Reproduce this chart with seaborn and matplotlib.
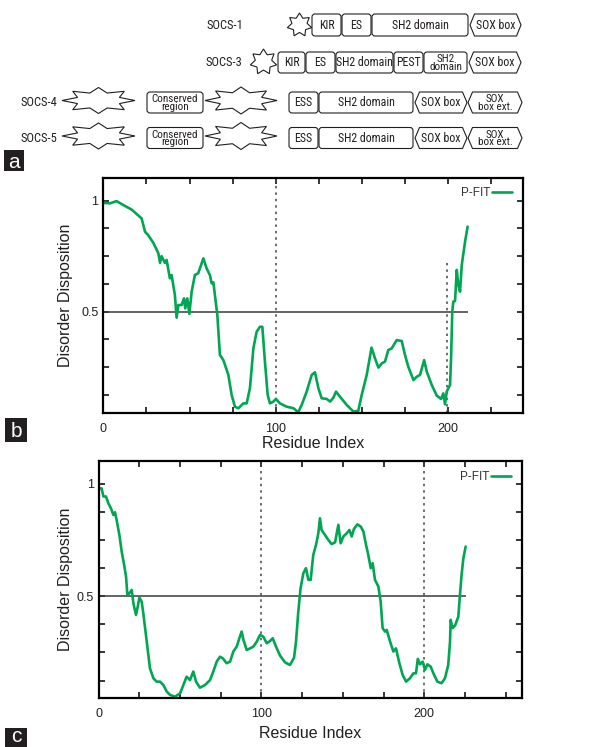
import numpy as np
import pandas as pd
import matplotlib
matplotlib.use("Agg")
import matplotlib.pyplot as plt
import seaborn as sns
from matplotlib.patches import FancyBboxPatch, Polygon, Rectangle
from matplotlib import font_manager
from matplotlib.font_manager import FontProperties

# ---------------- data ----------------
socs_names = ["SOCS-1", "SOCS-3", "SOCS-4", "SOCS-5"]
socs1_domains = ["KIR", "ES", "SH2 domain", "SOX box"]
socs3_domains = ["KIR", "ES", "SH2 domain", "PEST", "SH2\ndomain", "SOX box"]
socs45_domains = ["ESS", "SH2 domain", "SOX box", "SOX\nbox ext."]
conserved_label = "Conserved\nregion"

b_res = [0, 3.9, 7.7, 11.6, 16.4, 19.3, 22.2, 24.2, 26, 29, 31.9, 32.9, 33.8, 35.7, 36.7,
         38.6, 39.6, 41.5, 42.5, 43.5, 45.4, 46.8, 47.5, 48.7, 49.9, 51.2, 53.1, 55, 56, 58,
         59.9, 61.8, 62.8, 63.8, 64.7, 66.1, 67.6, 69.6, 72.5, 74.4, 76.3, 78.3, 81.2, 83.1,
         85, 87, 88.9, 90.8, 92.2, 93.7, 95.3, 96.6, 98.6, 100.1, 102.4, 106.3, 110.3, 113,
         115, 117.9, 120.8, 122.7, 124.7, 126.6, 129.5, 131.5, 133.4, 134.9, 137.2, 141.1,
         145, 147.8, 149.8, 152.7, 155.5, 157.5, 159.5, 161.4, 163.3, 165.2, 167.2, 170.1,
         173, 174.9, 176.8, 179.8, 181.7, 183.6, 186, 187.5, 190.4, 193.3, 195.8, 197.1,
         198.1, 199.1, 200, 201, 201.6, 202.3, 202.9, 203.9, 204.9, 205.8, 206.8, 207.8,
         209.7, 211.2]
b_val = [0.99, 0.988, 0.998, 0.98, 0.96, 0.94, 0.92, 0.86, 0.845, 0.81, 0.763, 0.72, 0.75,
         0.72, 0.733, 0.65, 0.665, 0.575, 0.473, 0.53, 0.53, 0.56, 0.515, 0.56, 0.49, 0.59,
         0.665, 0.673, 0.695, 0.74, 0.695, 0.665, 0.628, 0.632, 0.575, 0.485, 0.305, 0.282,
         0.215, 0.125, 0.072, 0.065, 0.087, 0.087, 0.155, 0.335, 0.41, 0.432, 0.432, 0.275,
         0.125, 0.087, 0.095, 0.107, 0.087, 0.072, 0.065, 0.047, 0.08, 0.14, 0.215, 0.227,
         0.155, 0.11, 0.107, 0.095, 0.113, 0.14, 0.117, 0.08, 0.05, 0.053, 0.125, 0.215,
         0.338, 0.29, 0.248, 0.267, 0.275, 0.327, 0.335, 0.372, 0.368, 0.305, 0.252, 0.192,
         0.207, 0.215, 0.282, 0.23, 0.17, 0.122, 0.107, 0.132, 0.083, 0.14, 0.155, 0.17,
         0.29, 0.5, 0.545, 0.548, 0.688, 0.62, 0.59, 0.71, 0.815, 0.883]

c_res = [0.8, 1.8, 2.9, 4.5, 5.9, 7.6, 9, 10, 11, 12.7, 14.1, 15.6, 16.8, 17.6, 18.8, 20.3,
         21.3, 22.9, 23.8, 25, 26.4, 27.4, 29.5, 31.5, 33.6, 35.6, 37.7, 39.7, 41.8, 43.8,
         46.9, 50, 52, 54, 56.1, 58.1, 59.8, 62.2, 65.3, 68.4, 70.4, 72.5, 74.5, 76.2, 78.6,
         80.7, 82.7, 84.8, 86.4, 87.8, 88.9, 90.9, 93, 95, 97.1, 99.1, 101.1, 103.2, 104.8,
         106.9, 108.9, 111.4, 114.4, 117.5, 120, 121.2, 122.6, 124, 125.7, 127.3, 128.8,
         130.2, 131.8, 133.5, 134.9, 135.9, 136.9, 139, 141, 143.1, 145.2, 146.2, 147.2,
         148.6, 150.3, 152.3, 154, 155.4, 156.8, 158.9, 161, 162.6, 164.2, 165.6, 167.1,
         168.3, 169.7, 171.8, 173.2, 174.4, 175.9, 176.9, 179, 181, 182.6, 184.7, 186.7,
         188.8, 191.2, 193.3, 194.9, 196, 197.4, 199, 200.4, 201.9, 203.9, 205.6, 208,
         210.6, 212.7, 214.7, 215.8, 216.2, 217.4, 218.9, 220.9, 221.9, 222.9, 224, 225.4]
c_val = [0.98, 0.98, 0.944, 0.944, 0.914, 0.89, 0.862, 0.874, 0.84, 0.773, 0.7, 0.64, 0.588,
         0.506, 0.513, 0.528, 0.469, 0.417, 0.447, 0.494, 0.476, 0.424, 0.298, 0.179, 0.135,
         0.12, 0.12, 0.105, 0.076, 0.061, 0.053, 0.068, 0.105, 0.142, 0.127, 0.165, 0.12,
         0.093, 0.105, 0.127, 0.165, 0.209, 0.231, 0.224, 0.202, 0.209, 0.254, 0.276, 0.313,
         0.343, 0.306, 0.261, 0.268, 0.276, 0.298, 0.328, 0.32, 0.291, 0.298, 0.313, 0.276,
         0.236, 0.206, 0.194, 0.227, 0.298, 0.432, 0.536, 0.602, 0.625, 0.573, 0.573, 0.684,
         0.729, 0.78, 0.847, 0.795, 0.773, 0.751, 0.732, 0.74, 0.78, 0.818, 0.736, 0.766,
         0.78, 0.795, 0.766, 0.8, 0.82, 0.81, 0.788, 0.729, 0.684, 0.625, 0.647, 0.573,
         0.543, 0.476, 0.358, 0.343, 0.35, 0.298, 0.254, 0.268, 0.202, 0.15, 0.12, 0.135,
         0.157, 0.157, 0.221, 0.197, 0.209, 0.172, 0.197, 0.187, 0.157, 0.12, 0.113, 0.135,
         0.194, 0.298, 0.395, 0.358, 0.37, 0.409, 0.506, 0.595, 0.669, 0.721]

threshold = 0.5
b_marks = [100, 199.5]
b_mark_tops = [None, 0.72]
c_marks = [100, 200]
c_mark_tops = [None, None]
x_ticks_b = [0, 25, 50, 75, 100, 125, 150, 175, 200, 225]
x_ticks_c = [0, 25, 50, 75, 100, 125, 150, 175, 200, 225, 250]
x_tick_labels = {0: "0", 100: "100", 200: "200"}
y_ticks = [0.125, 0.25, 0.375, 0.5, 0.625, 0.75, 0.875, 1.0]
y_tick_labels = {0.5: "0.5", 1.0: "1"}
series_name = "P-FIT"

# ---------------- style ----------------
sns.set_theme(style="ticks")
plt.rcParams["font.family"] = ["Liberation Sans", "DejaVu Sans"]


def find_condensed():
    prio = ["Liberation Sans Narrow", "Roboto Condensed", "Open Sans Condensed",
            "DejaVu Sans Condensed", "Noto Sans Condensed", "Arial Narrow"]
    ents = font_manager.fontManager.ttflist
    for p in prio:
        for f in ents:
            if f.name == p and f.style == "normal" and f.weight in (400, "normal", "regular"):
                return f.fname
    for f in ents:
        st = str(f.stretch)
        if ("condensed" in st and "semi" not in st and "extra" not in st and "ultra" not in st
                and f.style == "normal" and f.weight in (400, "normal", "regular")
                and ("Sans" in f.name or "Roboto" in f.name or "Lato" in f.name
                     or "Inter" in f.name)):
            return f.fname
    for f in ents:
        st = str(f.stretch)
        if ("condensed" in st and f.style == "normal"
                and f.weight in (400, "normal", "regular")
                and ("Sans" in f.name or "Roboto" in f.name)):
            return f.fname
    return None


COND = find_condensed()
if COND:
    FS, FS2, FSL = 8.6, 8.0, 9.0
else:
    FS, FS2, FSL = 7.2, 6.5, 7.8


def dprops(size):
    if COND:
        return FontProperties(fname=COND, size=size)
    return FontProperties(family=["Liberation Sans", "DejaVu Sans"], size=size)


GREEN = "#00a651"
TXT = "#231f20"
W, H = 592, 747
fig = plt.figure(figsize=(W / 100, H / 100), dpi=100)
fig.patch.set_facecolor("white")

# ---------------- panel a: domain diagrams ----------------
axa = fig.add_axes([0, 1 - 175 / H, 1, 175 / H])
axa.set_xlim(0, W)
axa.set_ylim(175, 0)
axa.axis("off")
LW = 0.8


def rbox(x0, x1, yc, h, text, fs=None, ls=1.0):
    p = FancyBboxPatch((x0, yc - h / 2), x1 - x0, h,
                       boxstyle="round,pad=0,rounding_size=3",
                       fc="white", ec=TXT, lw=LW)
    axa.add_patch(p)
    axa.text((x0 + x1) / 2, yc + 0.5, text, ha="center", va="center",
             fontproperties=dprops(fs or FS), color=TXT, linespacing=ls)


def hexbox(x0, x1, yc, h, text, fs=None, ls=1.0, d=4.5):
    pts = [(x0 + d, yc - h / 2), (x1 - d, yc - h / 2), (x1, yc),
           (x1 - d, yc + h / 2), (x0 + d, yc + h / 2), (x0, yc)]
    axa.add_patch(Polygon(pts, closed=True, fc="white", ec=TXT, lw=LW))
    axa.text((x0 + x1) / 2, yc + 0.5, text, ha="center", va="center",
             fontproperties=dprops(fs or FS), color=TXT, linespacing=ls)


def star(cx, cy, rx, ry, n=8, inner=0.6, rot=0.0):
    pts = []
    for k in range(2 * n):
        a = rot + np.pi * k / n
        r = 1.0 if k % 2 == 0 else inner
        pts.append((cx + rx * r * np.cos(a), cy - ry * r * np.sin(a)))
    axa.add_patch(Polygon(pts, closed=True, fc="white", ec=TXT, lw=LW))


def label(x1, yc, text):
    axa.text(x1, yc + 0.5, text, ha="right", va="center",
             fontproperties=dprops(FSL), color=TXT)


# SOCS-1
label(243, 25, socs_names[0])
star(299.5, 25, 12.5, 12, n=7, inner=0.62, rot=np.pi / 2)
for (x0, x1), t in zip([(312, 341), (342, 371), (372, 468)], socs1_domains[:3]):
    rbox(x0, x1, 25, 22, t)
hexbox(470, 521, 25, 22, socs1_domains[3])

# SOCS-3
label(242, 62.5, socs_names[1])
star(263.5, 62, 13.5, 13, n=7, inner=0.62, rot=np.pi / 2)
spans3 = [(278, 305), (306, 335), (336, 393), (394, 423), (424, 467)]
for (x0, x1), t in zip(spans3, socs3_domains[:5]):
    if "\n" in t:
        rbox(x0, x1, 62.5, 21, t, fs=FS2, ls=0.72)
    else:
        rbox(x0, x1, 62.5, 21, t)
hexbox(469, 521, 62.5, 21, socs3_domains[5])

# SOCS-4 / SOCS-5
for name, yc in zip(socs_names[2:], [102.5, 138]):
    label(57, yc, name)
    star(98.5, yc - 2, 36.5, 13, n=8, inner=0.62)
    rbox(147, 203, yc, 21, conserved_label, fs=FS2, ls=0.72)
    star(241, yc - 2, 36, 13.5, n=8, inner=0.62)
    rbox(289, 318, yc, 21, socs45_domains[0])
    rbox(319, 413, yc, 21, socs45_domains[1])
    hexbox(415, 467, yc, 21, socs45_domains[2])
    hexbox(468, 522, yc, 21, socs45_domains[3], fs=FS2, ls=0.72)


# ---------------- panel labels ----------------
def panel_label(x0, y0, w, h, t, dy=1.5):
    fig.add_artist(Rectangle((x0 / W, 1 - (y0 + h) / H), w / W, h / H,
                             transform=fig.transFigure, fc="#231f20", ec="none"))
    fig.text((x0 + w / 2) / W, 1 - (y0 + h / 2 + dy) / H, t, ha="center", va="center",
             color="white", fontsize=15)


panel_label(4, 150, 20, 21, "a")
panel_label(5, 418, 22, 24, "b")
panel_label(5, 728, 22, 24, "c", dy=-3.0)


# ---------------- panels b, c ----------------
def disorder_panel(rect_px, res, val, xlim, ylim, xticks, marks, mark_tops, legend_off,
                   xlabel_y, ylabel_x):
    l, r, t, b = rect_px
    ax = fig.add_axes([l / W, 1 - b / H, (r - l) / W, (b - t) / H])
    df = pd.DataFrame({"Residue Index": res, "Disorder Disposition": val})
    sns.lineplot(data=df, x="Residue Index", y="Disorder Disposition", ax=ax,
                 color=GREEN, lw=1.9, label=series_name, estimator=None, sort=False)
    ax.hlines(threshold, 0, res[-1], color="#3a3a3a", lw=1.1, zorder=1)
    for m, top in zip(marks, mark_tops):
        ax.vlines(m, ylim[0], ylim[1] if top is None else top, color="#444444",
                  lw=1.1, linestyles=(0, (1.6, 2.6)), zorder=1)
    ax.set_xlim(*xlim)
    ax.set_ylim(*ylim)
    ax.set_xticks(xticks)
    ax.set_xticklabels([x_tick_labels.get(v, "") for v in xticks])
    ax.set_yticks(y_ticks)
    ax.set_yticklabels([y_tick_labels.get(v, "") for v in y_ticks])
    ax.tick_params(direction="in", top=True, right=True, length=4, width=1.1,
                   labelsize=9, colors="#000000", labelcolor=TXT)
    ax.tick_params(axis="x", pad=7.5)
    ax.tick_params(axis="y", pad=3.5)
    for s in ax.spines.values():
        s.set_linewidth(1.6)
        s.set_color("black")
    ax.set_xlabel("Residue Index", fontsize=11.5, color=TXT)
    ax.set_ylabel("Disorder Disposition", fontsize=11.5, color=TXT)
    ax.xaxis.set_label_coords(0.5, xlabel_y)
    ax.yaxis.set_label_coords(ylabel_x, 0.5)
    leg = ax.legend(loc="upper right", bbox_to_anchor=legend_off, markerfirst=False,
                    frameon=False, fontsize=8.5, handlelength=1.7, handletextpad=0.15,
                    borderpad=0, borderaxespad=0)
    for txt in leg.get_texts():
        txt.set_color("#333333")
    return ax


disorder_panel((103.3, 523, 178, 413), b_res, b_val, (0, 243.3), (0.0437, 1.102),
               x_ticks_b, b_marks, b_mark_tops, (1 - 11 / 419.7, 1 - 9 / 235),
               -0.098, -0.072)
disorder_panel((98.7, 522.3, 461, 697.7), c_res, c_val, (0, 260.2), (0.0485, 1.102),
               x_ticks_c, c_marks, c_mark_tops, (1 - 11.5 / 423.6, 1 - 10 / 236.7),
               -0.12, -0.061)

fig.savefig("out.png", dpi=100, facecolor="white")
